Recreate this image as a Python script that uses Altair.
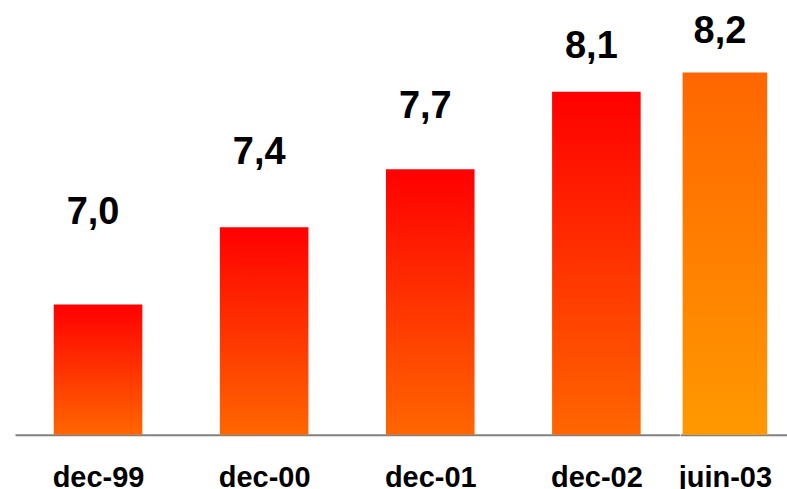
import altair as alt
import pandas as pd

# Headcount-style series (values shown with a decimal comma)
periods = ["dec-99", "dec-00", "dec-01", "dec-02", "juin-03"]
values = [7.0, 7.4, 7.7, 8.1, 8.2]
labels = ["7,0", "7,4", "7,7", "8,1", "8,2"]

df = pd.DataFrame({"period": periods, "value": values, "label": labels})

# Value axis does not start at zero
BAR_DOMAIN = [6.327, 8.573]
LABEL_DOMAIN = [5.601, 8.483]
PLOT_H = 435

FONT = "Liberation Sans"

red_grad = {
    "gradient": "linear", "x1": 0, "x2": 0, "y1": 0, "y2": 1,
    "stops": [{"offset": 0, "color": "#ff0000"}, {"offset": 1, "color": "#ff6600"}],
}
orange_grad = {
    "gradient": "linear", "x1": 0, "x2": 0, "y1": 0, "y2": 1,
    "stops": [{"offset": 0, "color": "#ff6600"}, {"offset": 1, "color": "#ff9900"}],
}

x_axis = alt.Axis(
    title=None, labelAngle=0, ticks=False, tickSize=0,
    labelFont=FONT, labelFontWeight="bold", labelFontSize=29, labelColor="black",
    labelPadding=29, domainColor="#808080", domainWidth=2, grid=False,
)


def panel(data, domain, width, bar_size, grad, x_scale):
    x = alt.X("period:N", sort=domain, scale=x_scale, axis=x_axis)
    bars = alt.Chart(data).mark_bar(size=bar_size, color=grad).encode(
        x=x,
        y=alt.Y("value:Q", scale=alt.Scale(domain=BAR_DOMAIN, zero=False), axis=None),
        y2=alt.datum(BAR_DOMAIN[0]),
    )
    text = alt.Chart(data).mark_text(
        font=FONT, fontWeight="bold", fontSize=38, baseline="alphabetic",
        align="center", dx=-5, color="black",
    ).encode(
        x=x,
        y=alt.Y("value:Q", scale=alt.Scale(domain=LABEL_DOMAIN, zero=False), axis=None),
        text="label:N",
    )
    return alt.layer(bars, text).resolve_scale(y="independent").properties(
        width=width, height=PLOT_H
    )


first = df[df["period"] != "juin-03"]
last = df[df["period"] == "juin-03"]

left = panel(first, periods[:4], 665.3, 88.7, red_grad,
             alt.Scale(type="point", padding=0.5))
right = panel(last, periods[4:], 106.5, 84.7, orange_grad,
              alt.Scale(type="point", padding=0, align=0.421))

chart = alt.hconcat(left, right, spacing=0, bounds="flush").properties(
    padding={"left": 15, "top": 0, "right": 0, "bottom": 0},
    background="white",
).configure_view(stroke=None)

chart.save("out.html", embed_options={"renderer": "svg", "actions": False})
